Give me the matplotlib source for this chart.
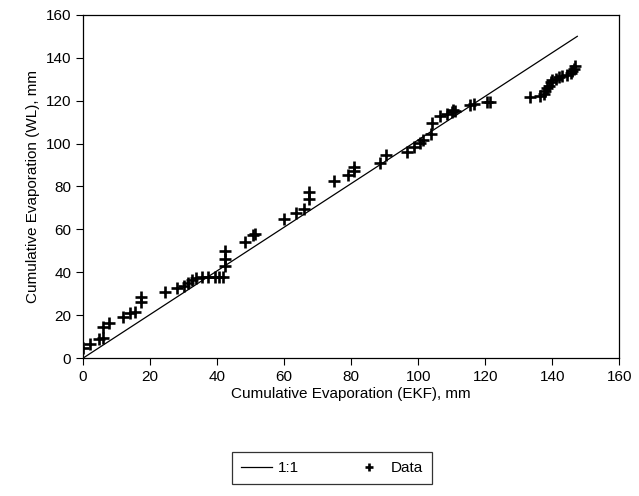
import matplotlib
matplotlib.use("Agg")
import matplotlib.pyplot as plt
import numpy as np

plt.rcParams['font.family'] = ['Liberation Sans', 'DejaVu Sans']

# cumulative evaporation, EKF estimate vs weighing lysimeter (mm)
ekf = [0.0, 2.0, 4.8, 6.0, 6.0, 7.8, 12.0, 14.0, 15.5, 17.3, 17.3,
       24.4, 28.0, 30.0, 31.3, 32.5, 33.7, 35.5, 37.3, 39.4, 40.5, 41.7,
       42.5, 42.5, 42.5, 48.3, 50.7, 51.3,
       60.0, 63.5, 65.9, 67.4, 67.4, 74.8, 79.0, 80.8, 80.8, 88.5, 90.3,
       96.6, 98.7, 100.7, 101.3, 103.7, 104.0, 106.4, 108.5, 110.0, 110.3, 110.9,
       115.6, 116.8, 120.4, 121.3,
       133.5, 136.5, 137.5, 138.0, 138.5, 139.0, 139.5, 140.0, 141.0, 142.0,
       143.0, 144.5, 145.5, 146.0, 146.5, 146.8]
wl = [4.6, 6.5, 8.8, 9.3, 14.5, 16.3, 19.0, 21.0, 21.5, 26.0, 28.5,
      31.0, 32.6, 33.6, 35.0, 36.4, 37.3, 37.8, 37.8, 37.8, 37.8, 37.8,
      43.0, 46.0, 50.0, 54.0, 57.4, 57.8,
      64.8, 67.6, 69.5, 74.0, 77.4, 82.6, 85.4, 87.2, 89.0, 91.0, 94.7,
      96.0, 98.4, 100.3, 101.7, 104.5, 109.6, 113.0, 114.0, 114.7, 115.7, 115.2,
      118.0, 118.5, 119.4, 119.4,
      121.5, 122.0, 123.0, 124.5, 126.0, 127.0, 128.5, 129.5, 130.0, 131.0,
      131.5, 132.0, 133.0, 134.0, 135.0, 136.0]

# 1:1 reference line
line_x = [0, 147.5]
line_y = [0, 150]

fig = plt.figure(figsize=(6.39, 4.96), dpi=100)
ax = fig.add_axes([0.130, 0.278, 0.839, 0.692])

ax.plot(line_x, line_y, color='black', lw=0.9, label='1:1')
ax.plot(ekf, wl, linestyle='none', marker='+', color='black',
        markersize=8, markeredgewidth=1.9, label='Data')

ax.set_xlim(0, 160)
ax.set_ylim(0, 160)
ax.set_xticks(np.arange(0, 161, 20))
ax.set_yticks(np.arange(0, 161, 20))
ax.tick_params(direction='out', length=5, width=0.8, labelsize=11,
               top=False, right=False)
for s in ax.spines.values():
    s.set_linewidth(0.9)

ax.set_xlabel('Cumulative Evaporation (EKF), mm', fontsize=11, labelpad=2)
ax.set_ylabel('Cumulative Evaporation (WL), mm', fontsize=11, labelpad=4)

leg = fig.legend(loc='upper center', bbox_to_anchor=(332 / 639, 1 - 452 / 496),
                 ncol=2, fontsize=11, frameon=True, fancybox=False,
                 edgecolor='black', handlelength=2.0, handletextpad=0.4,
                 columnspacing=3.6, borderpad=0.6, borderaxespad=0,
                 markerscale=0.8)
leg.get_frame().set_linewidth(0.9)

fig.savefig('out.png', dpi=100)
